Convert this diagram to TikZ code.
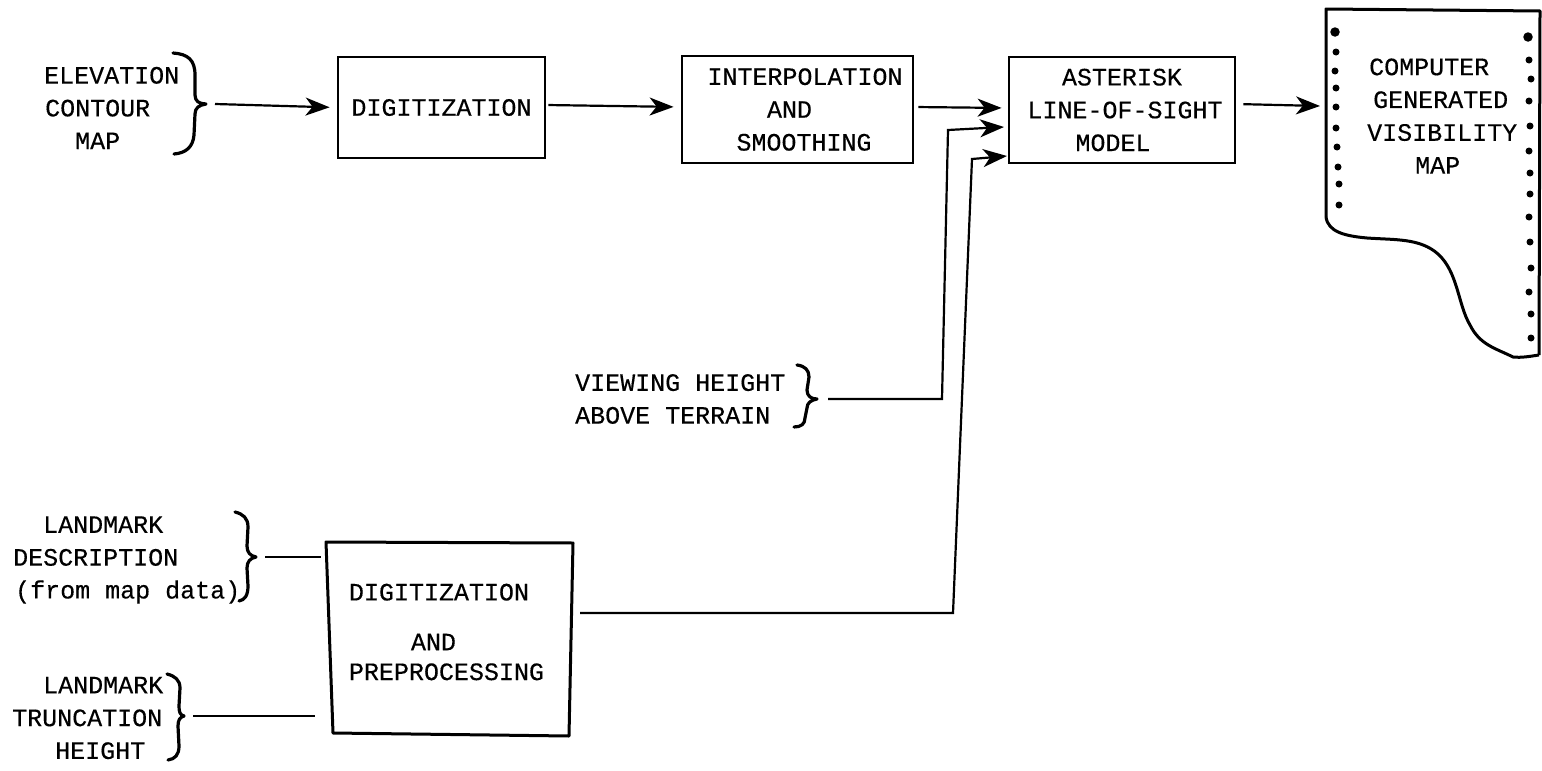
\documentclass[tikz,border=0pt]{standalone}
\usepackage{fontspec}
\setmainfont{Liberation Mono}[BoldFont=Liberation Mono,BoldFeatures={FakeBold=0.35}]
\usetikzlibrary{arrows.meta}
\newcommand{\ind}[1]{\hspace*{#1pt}}
\tikzset{
  txtf/.style={font=\fontsize{25}{32.8}\selectfont\bfseries},
  lbl/.style={txtf, inner sep=0pt, align=left, anchor=west, text=black},
  boxn/.style={draw=black, line width=2.8pt, inner sep=0pt, align=center, txtf, text=black},
  hidden/.style={inner sep=0pt, align=left, txtf, text=black},
  conn/.style={line width=2.2pt, draw=black},
  arr/.style={conn, -{Stealth[length=24pt,width=18pt,inset=7pt]}},
  brc/.style={line width=3.2pt, line cap=round, line join=round, draw=black},
  dot/.style={circle, fill=black, inner sep=0pt, minimum size=7pt},
  pen/.style={line width=3pt, line join=round, draw=black}
}
\begin{document}
\begin{tikzpicture}[x=1pt,y=-1pt]
\useasboundingbox (0,0) rectangle (1542,771);
% boxes
\node[boxn, minimum width=207pt, minimum height=101pt] (dig) at (441.5,107.5) {DIGITIZATION};
\node[boxn, minimum width=231pt, minimum height=107pt] (interp) at (797.5,109.5) {\ind{15}INTERPOLATION\\\ind{-16}AND\\\ind{13}SMOOTHING};
\node[boxn, minimum width=226pt, minimum height=106pt] (ast) at (1122,110) {ASTERISK\\\ind{6}LINE-OF-SIGHT\\\ind{-18}MODEL};
% preprocessing box (its outline leans, so it is drawn round the node)
\node[hidden, minimum width=243pt, minimum height=180pt] (prep) at (449.5,632) {DIGITIZATION\\[17pt]\ind{62}AND\\[-3pt]PREPROCESSING\ind{6}};
\draw[pen] (326,542) -- (573,543) -- (569,736) -- (333,733) -- cycle;
% input labels
\node[lbl] (elev) at (44,108) {ELEVATION\\\ind{1}CONTOUR\\\ind{31}MAP};
\node[lbl] (view) at (575,399) {VIEWING HEIGHT\\ABOVE TERRAIN};
\node[lbl] (ldesc) at (13,560) {\ind{30}LANDMARK\\DESCRIPTION\\\ind{2}(from map data)};
\node[lbl] (ltrunc) at (12,718) {\ind{31}LANDMARK\\TRUNCATION\\\ind{43}HEIGHT};
% braces
\draw[brc] (173,53) .. controls (188,54) and (195,60) .. (195,75) -- (195,95) .. controls (195,101) and (199,104) .. (206,104) .. controls (199,105) and (195,108) .. (195,114) -- (194,135) .. controls (193,147) and (186,153) .. (174,154);
\draw[brc] (797,365) .. controls (805,366) and (809,370) .. (809,377) -- (807,390) .. controls (807,396) and (811,399) .. (817,399) .. controls (811,400) and (807,403) .. (807,408) -- (805,418) .. controls (805,424) and (801,427) .. (794,427);
\draw[brc] (235,512) .. controls (243,514) and (248,518) .. (248,527) -- (247,546) .. controls (247,552) and (250,556) .. (256,557) .. controls (250,558) and (247,562) .. (247,568) -- (248,586) .. controls (248,595) and (245,600) .. (239,601);
\draw[brc] (167,674) .. controls (175,676) and (180,680) .. (180,688) -- (179,706) .. controls (179,712) and (180,715) .. (184,716) .. controls (180,717) and (178,720) .. (178,726) -- (179,746) .. controls (179,755) and (175,759) .. (168,760);
\coordinate (belev) at (215,104);
\coordinate (bview) at (828,399);
\coordinate (bdesc) at (265,557);
\coordinate (btrunc) at (193,716);
% paper
\draw[pen] (1326,217) -- (1326,9) -- (1540,11) -- (1539,355);
\draw[pen] (1326,217) .. controls (1328,232) and (1345,236) .. (1367,238) .. controls (1395,240) and (1420,238) .. (1438,254) .. controls (1458,272) and (1458,305) .. (1470,325) .. controls (1480,345) and (1495,348) .. (1513,357) .. controls (1522,358) and (1532,356) .. (1539,355);
\foreach \p in {(1336,52),(1335,71),(1336,88),(1336,107),(1336,128),(1337,147),(1338,167),(1339,184),(1339,205),
  (1529,60),(1531,79),(1529,101),(1530,126),(1529,151),(1530,173),(1530,194),(1529,217),(1530,242),(1531,268),(1529,292),(1531,314),(1531,338)}
  \node[dot] at \p {};
\node[dot, minimum size=9.5pt] at (1335,32) {};
\node[dot, minimum size=9.5pt] at (1528,37) {};
\node[lbl] (pap) at (1367,116) {\ind{2}COMPUTER\\\ind{6}GENERATED\\VISIBILITY\\\ind{48}MAP};
% connectors
\coordinate (paperin) at (1320,106);
\coordinate (a2) at (1004,127);
\coordinate (a3) at (1007,156);
\coordinate (v1) at (942,399);
\coordinate (v2) at (948,130);
\coordinate (w1) at (953,613);
\coordinate (w2) at (972,159);
\draw[arr, shorten >=7pt] (belev) -- (dig.west);
\draw[arr, shorten >=7pt, shorten <=2pt] ([yshift=2.5pt]dig.east) -- ([yshift=2.5pt]interp.west);
\draw[arr, shorten >=6pt, shorten <=4pt] ([yshift=2.5pt]interp.east) -- ([yshift=2pt]ast.west);
\draw[arr] (bview) -- (v1) -- (v2) -- (a2);
\draw[arr, shorten <=9pt] (prep.east |- w1) -- (w1) -- (w2) -- (a3);
\draw[arr, shorten <=7pt] ([yshift=6pt]ast.east) -- (paperin);
\draw[conn, shorten >=7pt] (bdesc) -- (prep.west |- bdesc);
\draw[conn, shorten >=13pt] (btrunc) -- (prep.west |- btrunc);
\end{tikzpicture}
\end{document}
